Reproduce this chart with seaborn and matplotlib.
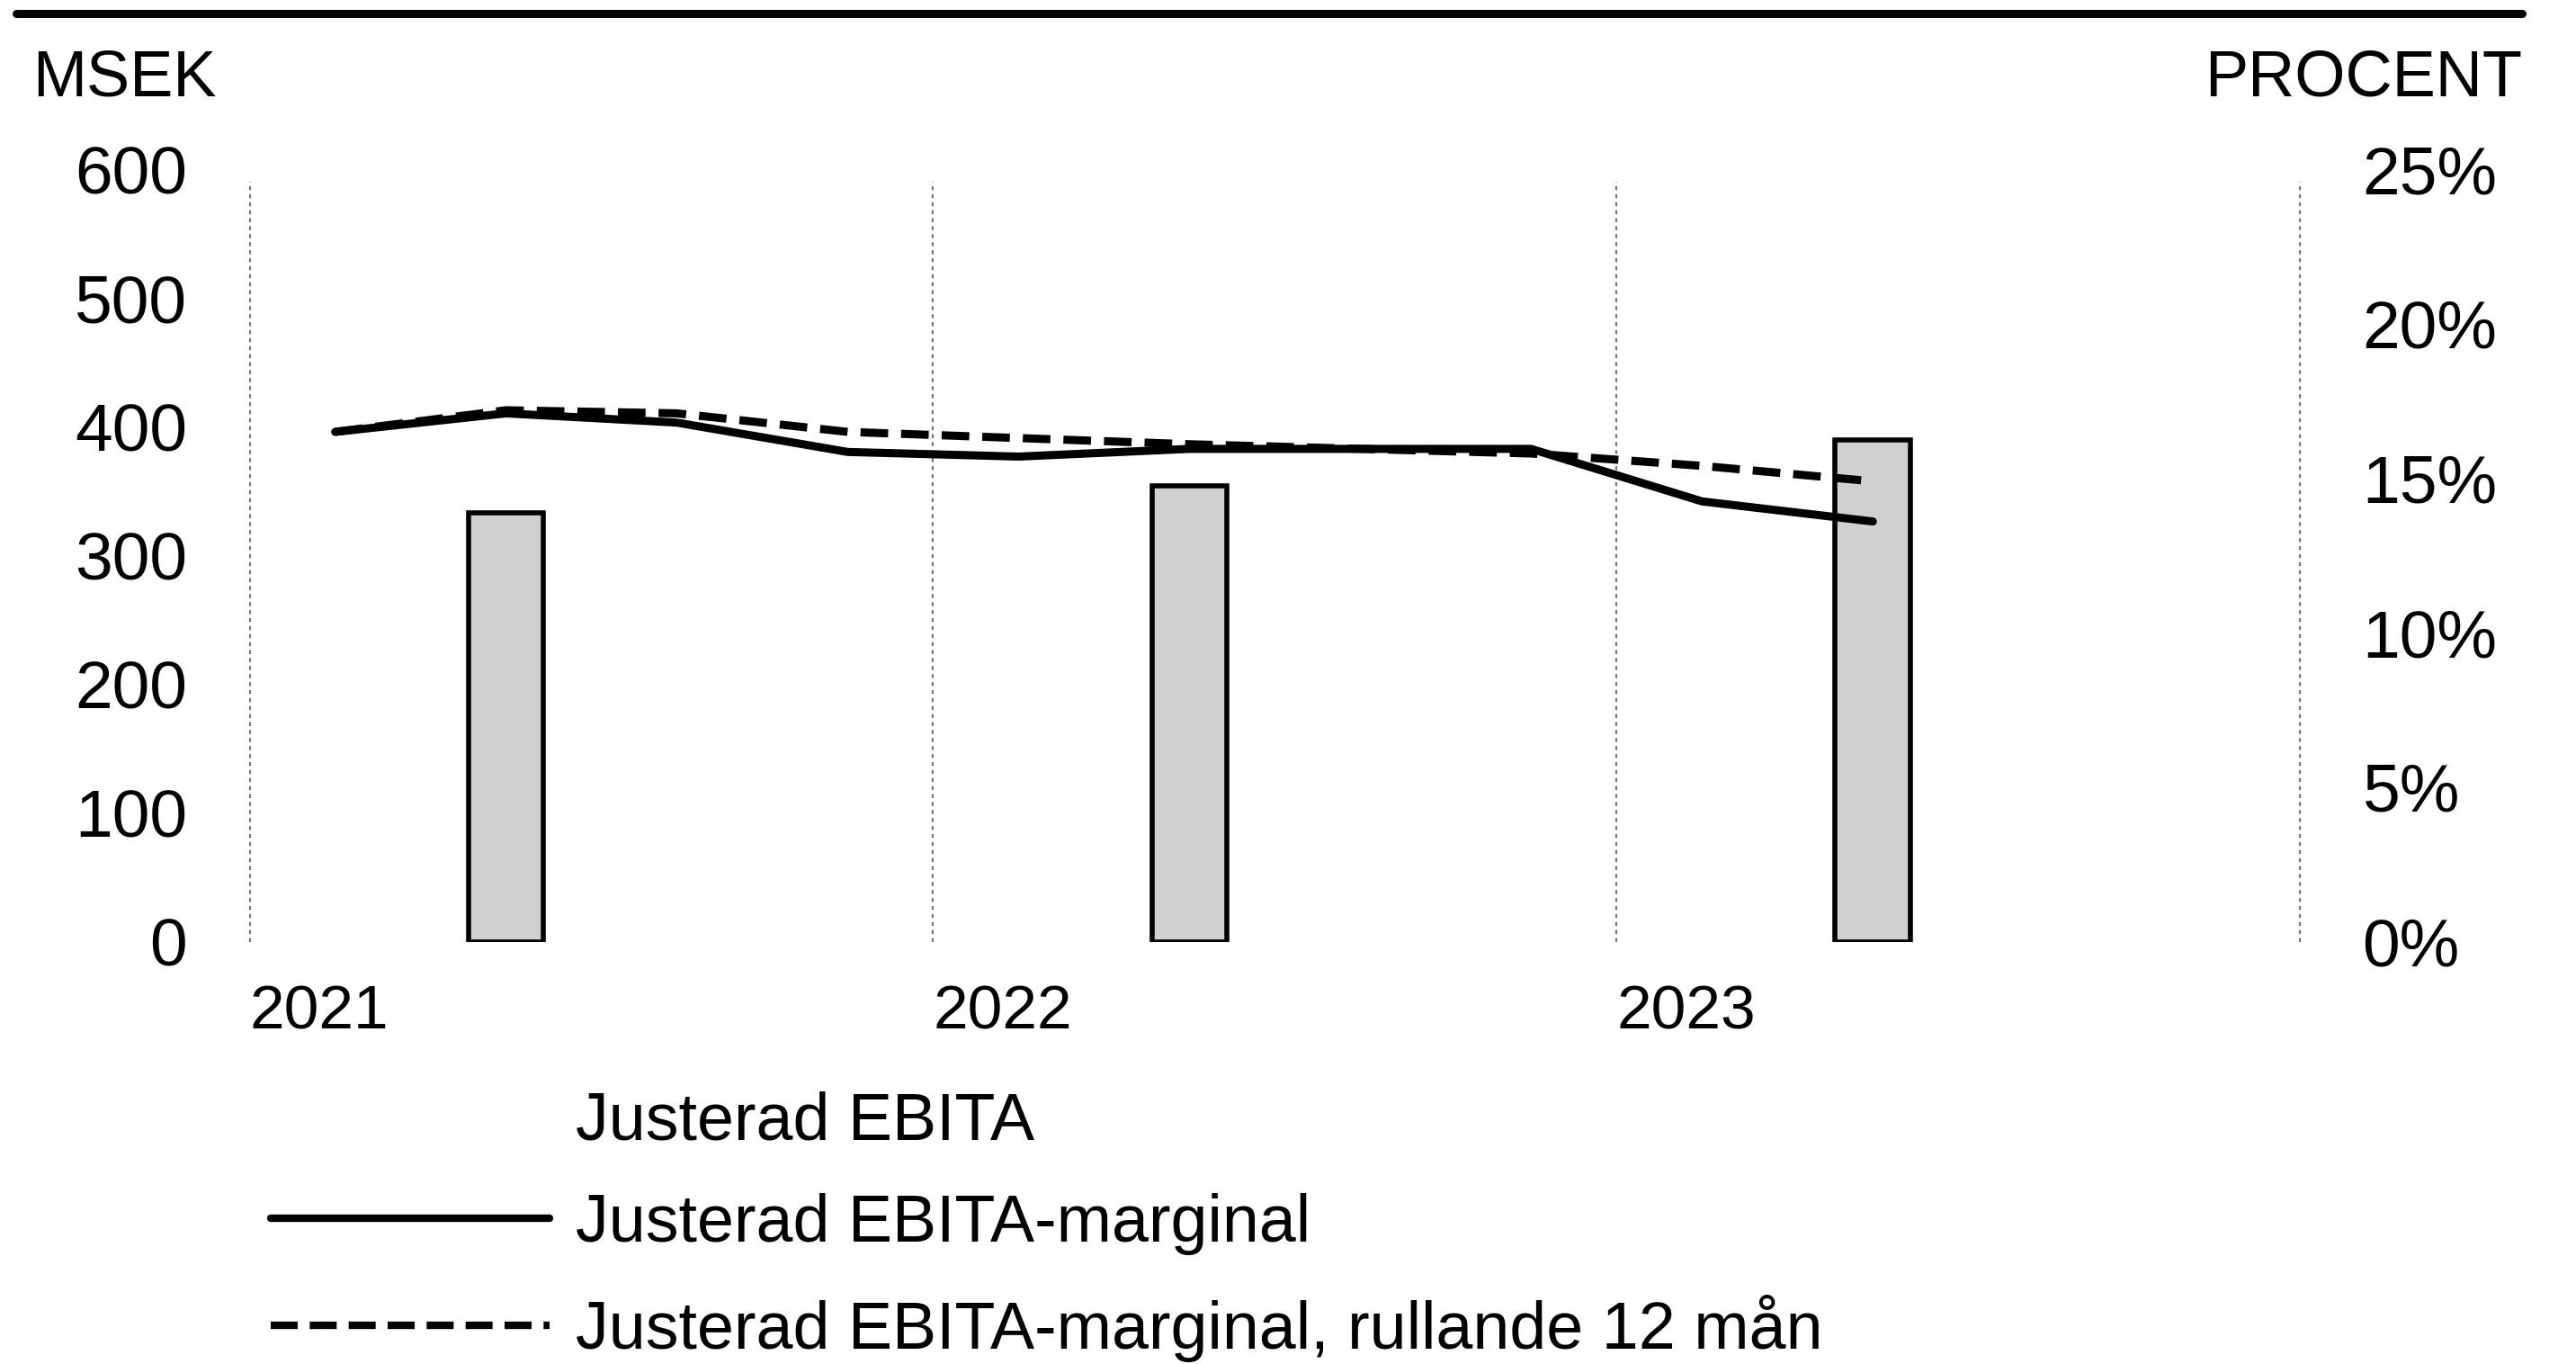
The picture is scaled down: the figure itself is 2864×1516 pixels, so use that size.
import matplotlib
matplotlib.use('Agg')
import matplotlib.pyplot as plt
from matplotlib.lines import Line2D
from matplotlib.patches import Patch
import numpy as np
import pandas as pd
import seaborn as sns

# Data
quarters = ['Q1 2021', 'Q2 2021', 'Q3 2021', 'Q4 2021',
            'Q1 2022', 'Q2 2022', 'Q3 2022', 'Q4 2022',
            'Q1 2023', 'Q2 2023']
margin = [16.5, 17.1, 16.8, 15.85, 15.7, 15.95, 15.95, 15.95, 14.25, 13.6]
margin_r12 = [16.5, 17.2, 17.1, 16.5, 16.3, 16.1, 15.95, 15.8, 15.4, 14.9]
bar_quarters = ['Q2 2021', 'Q2 2022', 'Q2 2023']
ebita = [333, 354, 390]
years = ['2021', '2022', '2023']
left_ticks = [0, 100, 200, 300, 400, 500, 600]
right_ticks = [0, 5, 10, 15, 20, 25]

df = pd.DataFrame({'kvartal': quarters, 'marg': margin, 'r12': margin_r12})
df['x'] = np.arange(len(quarters)) + 0.5
bars = pd.DataFrame({'kvartal': bar_quarters, 'ebita': ebita})
bars['x'] = bars['kvartal'].map(dict(zip(df['kvartal'], df['x'])))

sns.set_style('white')
plt.rcParams['font.family'] = ['Liberation Sans', 'DejaVu Sans']
plt.rcParams['text.color'] = 'black'
plt.rcParams['xtick.color'] = 'black'
plt.rcParams['ytick.color'] = 'black'

W, H = 1568, 830  # layout measured on the shrunk reference
fig = plt.figure(figsize=(28.64, 15.16), dpi=100)
ax = fig.add_axes([152 / W, 1 - 573 / H, (1400 - 152) / W, (573 - 103) / H])

# year separators
year_edges = np.arange(len(years) + 1) * 4
ax.vlines(year_edges, 0, 590, color='#777777', lw=1.6, ls=(0, (2, 2)), zorder=0, clip_on=False)

sns.barplot(data=bars, x='x', y='ebita', native_scale=True, width=0.11,
            color='#d0d0d0', edgecolor='black', linewidth=4, saturation=1, ax=ax)

ax2 = ax.twinx()
sns.lineplot(data=df, x='x', y='marg', color='black', lw=6.5, ax=ax2)
sns.lineplot(data=df, x='x', y='r12', color='black', lw=6.5, ax=ax2)
ax2.lines[-1].set_linestyle((0, (3.4, 1.6)))

ax.set_xlim(0, 12)
ax.set_ylim(0, 600)
ax2.set_ylim(0, 25)

ax.set_yticks(left_ticks)
ax.set_yticklabels([str(t) for t in left_ticks])
ax2.set_yticks(right_ticks)
ax2.set_yticklabels([f'{t}%' for t in right_ticks])
ax.set_xticks(year_edges[:-1])
ax.set_xticklabels(years)
for lab in ax.get_xticklabels():
    lab.set_ha('left')

ax.tick_params(axis='y', length=0, pad=50, labelsize=54)
ax2.tick_params(axis='y', length=0, pad=50, labelsize=54)
ax.tick_params(axis='x', length=0, pad=34, labelsize=50)
for a in (ax, ax2):
    a.set_xlabel('')
    a.set_ylabel('')
    for s in a.spines.values():
        s.set_visible(False)
    a.set_facecolor('none')

# heading rule and unit labels
fig.add_artist(Line2D([10 / W, 1535 / W], [1 - 8 / H, 1 - 8 / H], color='black', lw=6.5))
fig.text(20 / W, 1 - 48 / H, 'MSEK', fontsize=52, va='center', ha='left')
fig.text(1535 / W, 1 - 48 / H, 'PROCENT', fontsize=52, va='center', ha='right')

handles = [Patch(facecolor='none', edgecolor='none'),
           Line2D([], [], color='black', lw=6),
           Line2D([], [], color='black', lw=6, ls=(0, (3.6, 1.6)))]
labels = ['Justerad EBITA', 'Justerad EBITA-marginal',
          'Justerad EBITA-marginal, rullande 12 mån']
fig.legend(handles, labels, loc='upper left', bbox_to_anchor=(165 / W, 1 - 664 / H),
           frameon=False, fontsize=53, handlelength=4.2, handletextpad=0.4,
           labelspacing=0.6, borderpad=0, borderaxespad=0)

fig.savefig('out.png', dpi=100, facecolor='white')
